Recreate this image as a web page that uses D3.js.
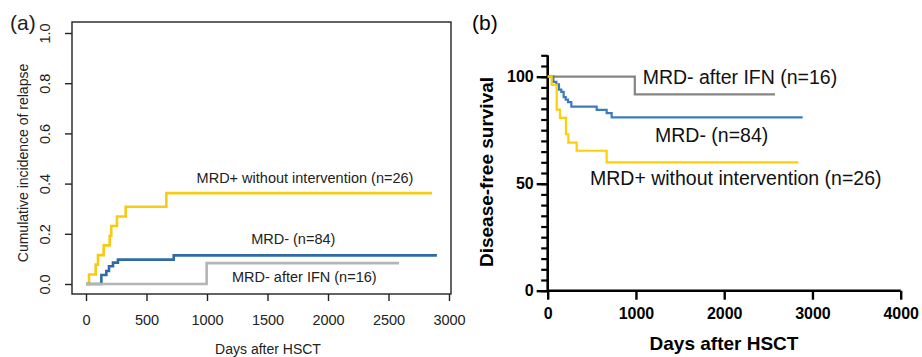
<!DOCTYPE html>
<html>
<head>
<meta charset="utf-8">
<script src="https://cdn.jsdelivr.net/npm/d3@7"></script>
<style>
  body { margin: 0; background: #fff; }
  text { font-family: "Liberation Sans", Arial, sans-serif; }
</style>
</head>
<body>
<div id="container"></div>
<script>
/* DATA - panel (a), cumulative incidence of relapse (step points) */
const ciPosDays = [0, 25, 80, 99, 146, 196, 209, 256, 328, 664, 2860];
const ciPosVals = [0, 0.038, 0.077, 0.115, 0.154, 0.192, 0.231, 0.269, 0.308, 0.362, 0.362];
const ciNegDays = [0, 127, 168, 190, 223, 264, 725, 2900];
const ciNegVals = [0, 0.036, 0.052, 0.071, 0.085, 0.097, 0.114, 0.114];
const ciIfnDays = [0, 997, 2587];
const ciIfnVals = [0, 0.083, 0.083];

/* DATA - panel (b), disease-free survival (%) */
const dfsIfnDays = [0, 987, 2576];
const dfsIfnVals = [100, 91.7, 91.7];
const dfsNegDays = [0, 64, 98, 128, 154, 181, 204, 230, 268, 555, 668, 725, 2889];
const dfsNegVals = [100, 97.6, 96.4, 94.0, 92.9, 90.5, 89.3, 88.1, 86.0, 84.5, 83.0, 81.0, 81.0];
const dfsPosDays = [0, 45, 102, 139, 207, 234, 328, 668, 2840];
const dfsPosVals = [100, 96.2, 84.6, 80.8, 73.1, 69.2, 65.4, 60.0, 60.0];

/* TICKS AND LABELS */
const ticksAx = [0, 500, 1000, 1500, 2000, 2500, 3000];
const ticksAy = [0, 0.2, 0.4, 0.6, 0.8, 1.0];
const ticksBx = [0, 1000, 2000, 3000, 4000];
const ticksBy = [0, 50, 100];
const ticksByMinor = d3.range(0, 111, 5);
const groupNames = ["MRD+ without intervention (n=26)", "MRD- (n=84)", "MRD- after IFN (n=16)"];

const zip = (xs, ys) => xs.map((x, i) => [x, ys[i]]);

const svg = d3.select("#container").append("svg")
  .attr("width", 922)
  .attr("height", 357);

/* ---------------- PANEL (a) ---------------- */
const xa = d3.scaleLinear().domain([0, 3000]).range([86, 449]);
const ya = d3.scaleLinear().domain([0, 1]).range([284, 33]);
const ink = "#222";

const ga = svg.append("g");

// box
ga.append("rect")
  .attr("x", 72).attr("y", 22)
  .attr("width", 379).attr("height", 272)
  .attr("fill", "none").attr("stroke", ink).attr("stroke-width", 1.4);

// x axis
const axA = ga.append("g")
  .attr("transform", "translate(0,294)")
  .call(d3.axisBottom(xa).tickValues(ticksAx).tickSize(7).tickPadding(14).tickFormat(d3.format("d")));
axA.select(".domain").remove();
axA.selectAll("line").attr("stroke", ink).attr("stroke-width", 1.4);
axA.selectAll("text").attr("font-size", 14.5).attr("fill", ink)
  .attr("font-family", "Liberation Sans, Arial, sans-serif");

// y axis, labels parallel to the axis
const ayA = ga.append("g")
  .attr("transform", "translate(72,0)")
  .call(d3.axisLeft(ya).tickValues(ticksAy).tickSize(7).tickFormat(d3.format(".1f")));
ayA.select(".domain").remove();
ayA.selectAll("line").attr("stroke", ink).attr("stroke-width", 1.4);
ayA.selectAll("text")
  .attr("transform", "rotate(-90)")
  .attr("x", 0).attr("y", -22).attr("dy", 0)
  .style("text-anchor", "middle")
  .attr("font-size", 14.5).attr("fill", ink)
  .attr("font-family", "Liberation Sans, Arial, sans-serif");

// axis titles
ga.append("text")
  .attr("transform", "translate(28,163) rotate(-90)")
  .style("text-anchor", "middle")
  .attr("font-size", 14).attr("fill", ink)
  .text("Cumulative incidence of relapse");

ga.append("text")
  .attr("x", 268).attr("y", 354)
  .style("text-anchor", "middle")
  .attr("font-size", 14).attr("fill", ink)
  .text("Days after HSCT");

ga.append("text")
  .attr("x", 10).attr("y", 30)
  .attr("font-size", 21).attr("fill", ink)
  .text("(a)");

const stepA = d3.line()
  .x(d => xa(d[0]))
  .y(d => ya(d[1]))
  .curve(d3.curveStepAfter);

const curvesA = [
  { pts: zip(ciPosDays, ciPosVals), color: "#F7CB15" },
  { pts: zip(ciNegDays, ciNegVals), color: "#2F6CA5" },
  { pts: zip(ciIfnDays, ciIfnVals), color: "#B5B5B5" }
];
ga.selectAll("path.curve")
  .data(curvesA)
  .join("path")
  .attr("class", "curve")
  .attr("d", d => stepA(d.pts))
  .attr("fill", "none")
  .attr("stroke", d => d.color)
  .attr("stroke-width", 2.6);

// curve labels (a)
const labelsA = [
  { text: groupNames[0], day: 1810, val: 0.402 },
  { text: groupNames[1], day: 1713, val: 0.159 },
  { text: groupNames[2], day: 1804, val: 0.006 }
];
ga.selectAll("text.lab")
  .data(labelsA)
  .join("text")
  .attr("class", "lab")
  .attr("x", d => xa(d.day))
  .attr("y", d => ya(d.val))
  .style("text-anchor", "middle")
  .attr("font-size", 14.5).attr("fill", ink)
  .text(d => d.text);

/* ---------------- PANEL (b) ---------------- */
const xb = d3.scaleLinear().domain([0, 4000]).range([547.7, 900.7]);
const yb = d3.scaleLinear().domain([0, 110]).range([290.7, 55.3]);

const gb = svg.append("g");

// minor y ticks
gb.append("g")
  .attr("transform", "translate(547.7,0)")
  .call(d3.axisLeft(yb).tickValues(ticksByMinor).tickSize(6.5).tickFormat(""))
  .call(g => g.select(".domain").remove())
  .selectAll("line").attr("stroke", "#000").attr("stroke-width", 2.2);

// major y ticks
const ayB = gb.append("g")
  .attr("transform", "translate(547.7,0)")
  .call(d3.axisLeft(yb).tickValues(ticksBy).tickSize(11).tickPadding(3));
ayB.select(".domain").attr("stroke-width", 2.6).attr("d", `M0,${yb(110)}V${yb(0)}`);
ayB.selectAll("line").attr("stroke", "#000").attr("stroke-width", 2.4);
ayB.selectAll("text").attr("font-size", 16).attr("font-weight", "bold").attr("fill", "#000")
  .attr("font-family", "Liberation Sans, Arial, sans-serif");

// x axis
const axB = gb.append("g")
  .attr("transform", "translate(0,290.7)")
  .call(d3.axisBottom(xb).tickValues(ticksBx).tickSize(9).tickPadding(8).tickFormat(d3.format("d")));
axB.select(".domain").attr("stroke-width", 2.6).attr("d", `M${xb(0)},0H${xb(4000)}`);
axB.selectAll("line").attr("stroke", "#000").attr("stroke-width", 2.4);
axB.selectAll("text").attr("font-size", 16).attr("font-weight", "bold").attr("fill", "#000")
  .attr("font-family", "Liberation Sans, Arial, sans-serif");

// axis titles
gb.append("text")
  .attr("transform", "translate(493,172) rotate(-90)")
  .style("text-anchor", "middle")
  .attr("font-size", 19).attr("font-weight", "bold")
  .text("Disease-free survival");

gb.append("text")
  .attr("x", 724).attr("y", 350)
  .style("text-anchor", "middle")
  .attr("font-size", 19).attr("font-weight", "bold")
  .text("Days after HSCT");

gb.append("text")
  .attr("x", 472).attr("y", 30)
  .attr("font-size", 21)
  .text("(b)");

const stepB = d3.line()
  .x(d => xb(d[0]))
  .y(d => yb(d[1]))
  .curve(d3.curveStepAfter);

const curvesB = [
  { pts: zip(dfsIfnDays, dfsIfnVals), color: "#858585" },
  { pts: zip(dfsNegDays, dfsNegVals), color: "#3B7BBE" },
  { pts: zip(dfsPosDays, dfsPosVals), color: "#FCCF07" }
];
gb.selectAll("path.curve")
  .data(curvesB)
  .join("path")
  .attr("class", "curve")
  .attr("d", d => stepB(d.pts))
  .attr("fill", "none")
  .attr("stroke", d => d.color)
  .attr("stroke-width", 2.2);

// curve labels (b)
const labelsB = [
  { text: groupNames[2], day: 1076, val: 96.6 },
  { text: groupNames[1], day: 1216, val: 69.6 },
  { text: groupNames[0], day: 479, val: 49.4 }
];
gb.selectAll("text.lab")
  .data(labelsB)
  .join("text")
  .attr("class", "lab")
  .attr("x", d => xb(d.day))
  .attr("y", d => yb(d.val))
  .attr("font-size", 19.5)
  .attr("fill", "#111")
  .text(d => d.text);
</script>
</body>
</html>
